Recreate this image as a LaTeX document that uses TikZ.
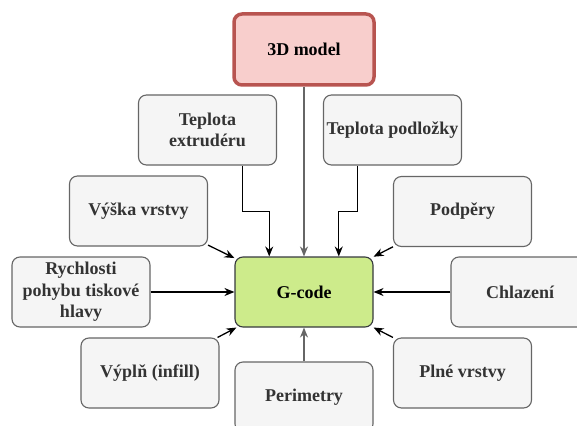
\documentclass[tikz,border=0pt]{standalone}
\usepackage{fontspec}
\setmainfont{Liberation Serif}
\usetikzlibrary{arrows.meta,calc}

\definecolor{boxfill}{HTML}{F5F5F5}
\definecolor{boxline}{HTML}{666666}
\definecolor{boxtext}{HTML}{333333}
\definecolor{modelfill}{HTML}{F8CECC}
\definecolor{modelline}{HTML}{B85450}
\definecolor{codefill}{HTML}{CDEB8B}
\definecolor{codeline}{HTML}{36393D}

\begin{document}
\begin{tikzpicture}[x=1pt,y=-1pt,
  box/.style={draw=boxline, fill=boxfill, text=boxtext, rounded corners=8pt,
    line width=1.1pt, minimum width=138pt, minimum height=70pt, inner xsep=0pt,
    align=center, font=\bfseries\fontsize{18}{21.5}\selectfont},
  arr/.style={-{Stealth[length=10pt,width=8pt]}, line width=1.3pt}]
\clip (0,0) rectangle (577,425);
\useasboundingbox (0,0) rectangle (577,425);
\node[box, draw=modelline, fill=modelfill, text=black, line width=3.5pt,
  minimum width=140pt, minimum height=71pt] (model) at (304,49.5){3D model};
\node[box] (extr) at (207.5,130){Teplota\\extrudéru};
\node[box] (podl) at (392.5,130){Teplota podložky};
\node[box] (vyska) at (138.5,211){Výška vrstvy};
\node[box] (podpery) at (462.5,211.5){Podpěry};
\node[box] (rychl) at (81,292){Rychlosti\\pohybu tiskové\\hlavy};
\node[box, draw=codeline, fill=codefill, text=black] (gcode) at (304,292){G-code};
\node[box] (chlaz) at (520,292){Chlazení};
\node[box] (vypln) at (150,373){Výplň (infill)};
\node[box] (perim) at (304,397){Perimetry};
\node[box] (plne) at (462.5,373){Plné vrstvy};
% connectors
\draw[arr, boxline](model) -- (gcode);
\draw[arr]($(extr.south west)!.75!(extr.south east)$) -- ++(0,46)
  -| ($(gcode.north west)!.25!(gcode.north east)$);
\draw[arr]($(podl.south west)!.25!(podl.south east)$) -- ++(0,46)
  -| ($(gcode.north west)!.75!(gcode.north east)$);
\draw[arr](vyska) -- (gcode);
\draw[arr](podpery) -- (gcode);
\draw[arr](rychl) -- (gcode);
\draw[arr](chlaz) -- (gcode);
\draw[arr](vypln) -- (gcode);
\draw[arr](plne) -- (gcode);
\draw[arr, boxline](perim) -- (gcode);
\end{tikzpicture}
\end{document}
